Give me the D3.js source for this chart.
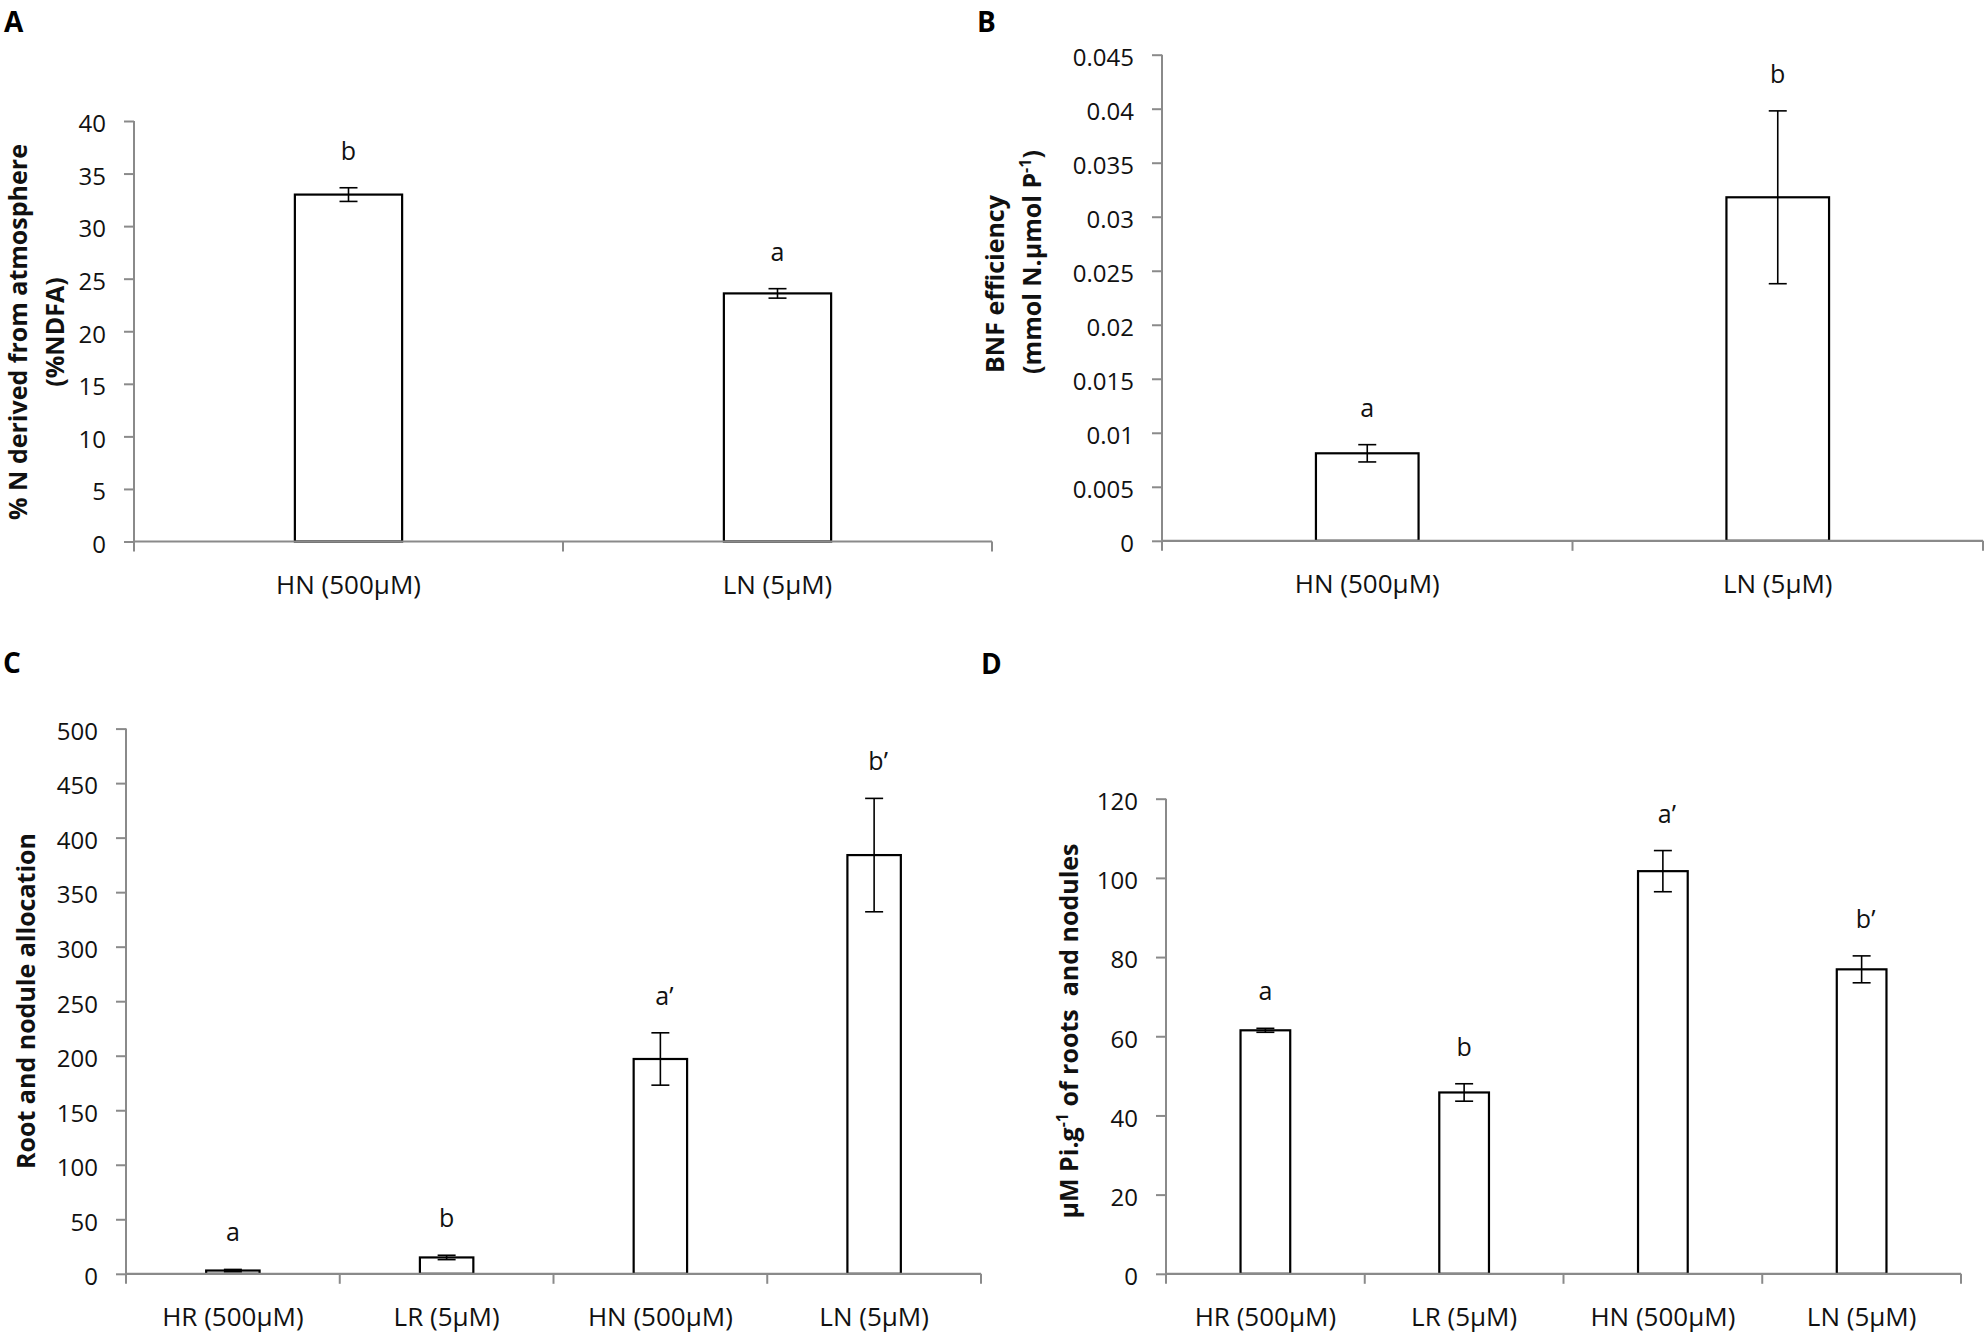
<!DOCTYPE html>
<html>
<head>
<meta charset="utf-8">
<script src="https://cdn.jsdelivr.net/npm/d3@7"></script>
<style>
  body { margin: 0; background: #fff; }
  svg { display: block; }
  text { font-family: "Open Sans", "Liberation Sans", sans-serif; white-space: pre; }
</style>
</head>
<body>
<div id="chart"></div>
<script>
// panel A - %NDFA
const ndfaCategories = ["HN (500µM)", "LN (5µM)"];
const ndfaValues = [33.0, 23.6];
const ndfaErrors = [0.65, 0.45];
const ndfaLetters = ["b", "a"];
const ndfaTicks = [0, 5, 10, 15, 20, 25, 30, 35, 40];

// panel B - BNF efficiency
const bnfCategories = ["HN (500µM)", "LN (5µM)"];
const bnfValues = [0.0081, 0.0318];
const bnfErrors = [0.0008, 0.008];
const bnfLetters = ["a", "b"];
const bnfTicks = [0, 0.005, 0.01, 0.015, 0.02, 0.025, 0.03, 0.035, 0.04, 0.045];

// panel C - root and nodule allocation
const allocCategories = ["HR (500µM)", "LR (5µM)", "HN (500µM)", "LN (5µM)"];
const allocValues = [3, 15, 197, 384];
const allocErrors = [1, 2, 24, 52];
const allocLetters = ["a", "b", "a\u2019", "b\u2019"];
const allocTicks = [0, 50, 100, 150, 200, 250, 300, 350, 400, 450, 500];

// panel D - Pi content
const piCategories = ["HR (500µM)", "LR (5µM)", "HN (500µM)", "LN (5µM)"];
const piValues = [61.5, 45.8, 101.7, 76.9];
const piErrors = [0.5, 2.2, 5.2, 3.4];
const piLetters = ["a", "b", "a\u2019", "b\u2019"];
const piTicks = [0, 20, 40, 60, 80, 100, 120];

const width = 1988, height = 1335;
const axisColor = "#8a8a8a";

const svg = d3.select("#chart")
    .append("svg")
    .attr("width", width)
    .attr("height", height);

svg.append("rect").attr("width", width).attr("height", height).attr("fill", "#fff");

function drawPanel(opt) {
    const x = d3.scaleBand()
        .domain(opt.categories)
        .range([opt.left, opt.right])
        .padding(0);
    const y = d3.scaleLinear()
        .domain([0, d3.max(opt.ticks)])
        .range([opt.bottom, opt.top]);

    const g = svg.append("g");
    const rows = opt.categories.map((c, i) => ({
        cat: c, value: opt.values[i], err: opt.errors[i], letter: opt.letters[i]
    }));
    const barW = x.bandwidth() * 0.25;

    // bars
    g.selectAll("rect.bar")
        .data(rows)
        .enter().append("rect")
        .attr("class", "bar")
        .attr("x", d => x(d.cat) + x.bandwidth() / 2 - barW / 2)
        .attr("y", d => y(d.value))
        .attr("width", barW)
        .attr("height", d => y(0) - y(d.value))
        .attr("fill", "#fff")
        .attr("stroke", "#000")
        .attr("stroke-width", 2.2);

    // y axis
    const yAxis = d3.axisLeft(y)
        .tickValues(opt.ticks)
        .tickSize(10)
        .tickPadding(18)
        .tickFormat(opt.format);
    const ya = g.append("g")
        .attr("transform", `translate(${opt.left},0)`)
        .call(yAxis);
    ya.select(".domain").attr("stroke", axisColor).attr("stroke-width", 2)
        .attr("d", `M0,${opt.top}V${opt.bottom}`);
    ya.selectAll(".tick line").attr("stroke", axisColor).attr("stroke-width", 2);
    ya.selectAll(".tick text")
        .attr("font-family", "Open Sans, sans-serif")
        .attr("font-size", 24)
        .attr("fill", "#111")
        .attr("dy", "0.45em");

    // x axis, ticks at the band boundaries
    g.append("line")
        .attr("x1", opt.left).attr("x2", opt.right)
        .attr("y1", y(0)).attr("y2", y(0))
        .attr("stroke", axisColor).attr("stroke-width", 2.2);
    const edges = opt.categories.map(c => x(c)).concat([opt.right]);
    g.selectAll("line.xtick")
        .data(edges)
        .enter().append("line")
        .attr("class", "xtick")
        .attr("x1", d => d).attr("x2", d => d)
        .attr("y1", y(0)).attr("y2", y(0) + 10)
        .attr("stroke", axisColor).attr("stroke-width", 2);
    g.selectAll("text.xlab")
        .data(rows)
        .enter().append("text")
        .attr("class", "xlab")
        .attr("x", d => x(d.cat) + x.bandwidth() / 2)
        .attr("y", y(0) + 52)
        .attr("text-anchor", "middle")
        .attr("font-size", 26)
        .attr("fill", "#111")
        .text(d => d.cat);

    // error bars
    const eb = g.selectAll("g.err")
        .data(rows)
        .enter().append("g")
        .attr("class", "err")
        .attr("stroke", "#000")
        .attr("stroke-width", 1.6);
    const cx = d => x(d.cat) + x.bandwidth() / 2;
    eb.append("line")
        .attr("x1", cx).attr("x2", cx)
        .attr("y1", d => y(d.value + d.err)).attr("y2", d => y(d.value - d.err));
    eb.append("line")
        .attr("x1", d => cx(d) - 9).attr("x2", d => cx(d) + 9)
        .attr("y1", d => y(d.value + d.err)).attr("y2", d => y(d.value + d.err));
    eb.append("line")
        .attr("x1", d => cx(d) - 9).attr("x2", d => cx(d) + 9)
        .attr("y1", d => y(d.value - d.err)).attr("y2", d => y(d.value - d.err));

    // significance letters
    g.selectAll("text.letter")
        .data(rows)
        .enter().append("text")
        .attr("class", "letter")
        .attr("x", d => cx(d) + (d.letter.length > 1 ? 4 : 0))
        .attr("y", d => y(d.value + d.err) - 28)
        .attr("text-anchor", "middle")
        .attr("font-size", 25)
        .attr("fill", "#111")
        .text(d => d.letter);

    // panel letter
    svg.append("text")
        .attr("x", opt.labelX).attr("y", opt.labelY)
        .attr("font-family", "Liberation Sans, Arial, sans-serif")
        .attr("font-weight", "bold")
        .attr("font-size", 28)
        .text(opt.label);
}

function yTitle(lines) {
    lines.forEach(ln => {
        const t = svg.append("text")
            .attr("transform", `translate(${ln.x},${ln.y}) rotate(-90)`)
            .attr("text-anchor", "middle")
            .attr("font-weight", "bold")
            .attr("font-size", 25)
            .attr("fill", "#111");
        ln.parts.forEach(p => {
            const s = t.append("tspan").text(p.t);
            if (p.sup) s.attr("dy", -10).attr("font-size", 16);
            else if (p.after) s.attr("dy", 10);
        });
    });
}

const fmtBnf = d => d === 0 ? "0" : String(+d.toFixed(3));

drawPanel({
    categories: ndfaCategories, values: ndfaValues, errors: ndfaErrors,
    letters: ndfaLetters, ticks: ndfaTicks, format: d3.format("d"),
    left: 134, right: 992, top: 121, bottom: 541.5,
    label: "A", labelX: 4, labelY: 32
});
drawPanel({
    categories: bnfCategories, values: bnfValues, errors: bnfErrors,
    letters: bnfLetters, ticks: bnfTicks, format: fmtBnf,
    left: 1162, right: 1983, top: 54.7, bottom: 540.8,
    label: "B", labelX: 977, labelY: 32
});
drawPanel({
    categories: allocCategories, values: allocValues, errors: allocErrors,
    letters: allocLetters, ticks: allocTicks, format: d3.format("d"),
    left: 126, right: 981, top: 728.6, bottom: 1273.8,
    label: "C", labelX: 3, labelY: 673
});
drawPanel({
    categories: piCategories, values: piValues, errors: piErrors,
    letters: piLetters, ticks: piTicks, format: d3.format("d"),
    left: 1166, right: 1961, top: 798.7, bottom: 1273.8,
    label: "D", labelX: 981, labelY: 674
});

yTitle([
    { x: 27, y: 332, parts: [{ t: "% N derived from atmosphere" }] },
    { x: 64, y: 332, parts: [{ t: "(%NDFA)" }] }
]);
yTitle([
    { x: 1004, y: 284, parts: [{ t: "BNF efficiency" }] },
    { x: 1041, y: 262, parts: [{ t: "(mmol N.µmol P" }, { t: "-1", sup: true }, { t: ")", after: true }] }
]);
yTitle([
    { x: 35, y: 1001, parts: [{ t: "Root and nodule allocation" }] }
]);
yTitle([
    { x: 1078, y: 1031, parts: [{ t: "µM Pi.g" }, { t: "-1", sup: true }, { t: " of roots  and nodules", after: true }] }
]);
</script>
</body>
</html>
